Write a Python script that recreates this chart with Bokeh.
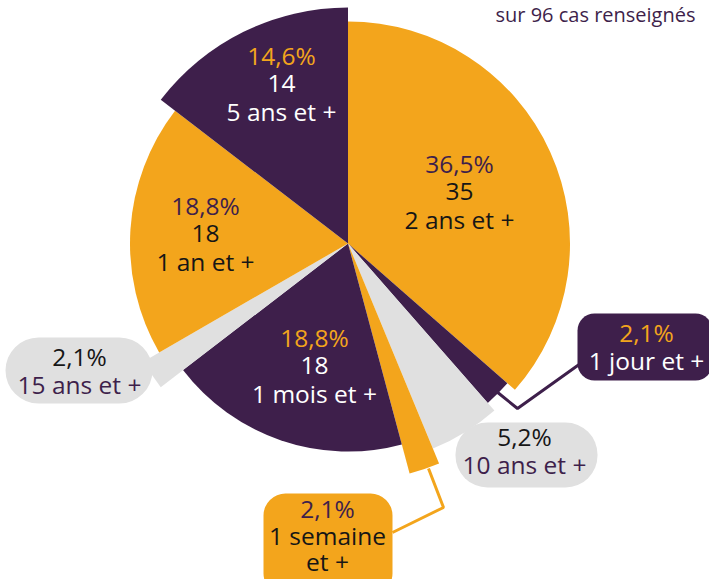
from bokeh.plotting import figure
from bokeh.models import Range1d, ColumnDataSource
from bokeh.core.properties import value
from bokeh.embed import file_html
from bokeh.resources import INLINE
import math

# ---- data ----
categories = ["2 ans et +", "1 jour et +", "10 ans et +", "1 semaine et +",
              "1 mois et +", "15 ans et +", "1 an et +", "5 ans et +"]
counts = [35, 2, 5, 2, 18, 2, 18, 14]
note = "sur 96 cas renseignés"

# ---- styles ----
ORANGE = "#F3A51C"
PURPLE = "#3E1F4B"
GREY = "#E0E0E0"
BLACK = "#161616"
WHITE = "#FFFFFF"
FONT = "Open Sans"
FS = "24.5px"
colors = [ORANGE, PURPLE, GREY, ORANGE, PURPLE, GREY, ORANGE, PURPLE]
radii = [222, 212, 222, 238, 208, 236, 218, 236]

W, H = 709, 579
CX, CY = 347.5, 243  # pixel position of pie centre


def Y(sy):
    return -sy


p = figure(width=W, height=H, output_backend="svg", toolbar_location=None,
           x_range=Range1d(0, W), y_range=Range1d(-H, 0),
           x_axis_location=None, y_axis_location=None, min_border=0,
           outline_line_color=None, background_fill_color=WHITE)
p.grid.visible = False

total = sum(counts)
starts, ends = [], []
cum = 0.0
for c in counts:
    a0 = math.pi / 2 - 2 * math.pi * cum / total
    cum += c
    a1 = math.pi / 2 - 2 * math.pi * cum / total
    starts.append(a1)
    ends.append(a0)

src = ColumnDataSource(dict(x=[CX] * len(counts), y=[Y(CY)] * len(counts),
                            r=radii, start=starts, end=ends, color=colors))
p.wedge(x="x", y="y", radius="r", start_angle="start", end_angle="end",
        fill_color="color", line_color=None, source=src)


def pct(c):
    return ("%.1f" % (100.0 * c / total)).replace(".", ",") + "%"


def txt(x, sy, s, color, align="center"):
    p.text(x=[x], y=[Y(sy)], text=[s], text_color=color, text_font=value(FONT),
           text_font_size=FS, text_align=align, text_baseline="middle")


# inner labels: slice index -> (centre x, first line y)
inner = {0: (459, 163), 4: (314, 337), 6: (205, 205), 7: (281, 55)}
for i, (lx, ly) in inner.items():
    on_orange = colors[i] == ORANGE
    txt(lx, ly, pct(counts[i]), PURPLE if on_orange else ORANGE)
    txt(lx, ly + 28, str(counts[i]), BLACK if on_orange else WHITE)
    txt(lx, ly + 56, categories[i], BLACK if on_orange else WHITE)

# connectors
p.line(x=[580, 517, 496], y=[Y(363), Y(408), Y(391)], line_color=PURPLE, line_width=3)
p.line(x=[428, 443, 392], y=[Y(468), Y(507), Y(532)], line_color=ORANGE, line_width=3)

# callout boxes: slice index -> (left, top, right, bottom, radius, text x, first line y, line step)
boxes = {1: (577, 313, 712, 380, 17, 646, 332, 28),
         2: (455, 422, 597, 487, 32, 524, 436, 28),
         3: (263, 493, 392, 595, 22, 327, 508, 26.5),
         5: (5, 337, 152, 403, 33, 79, 356, 28)}
for i, (l, t, r, b, br, tx, ty, step) in boxes.items():
    p.quad(left=[l], right=[r], top=[Y(t)], bottom=[Y(b)], fill_color=colors[i],
           line_color=None, border_radius=br)
    if colors[i] == PURPLE:
        c1, c2 = ORANGE, WHITE
    elif colors[i] == ORANGE:
        c1, c2 = PURPLE, BLACK
    else:
        c1, c2 = BLACK, PURPLE
    txt(tx, ty, pct(counts[i]), c1)
    cat = categories[i]
    lines = cat.replace(" et +", "\net +").split("\n") if len(cat) > 12 else [cat]
    for k, s in enumerate(lines):
        txt(tx, ty + step * (k + 1), s, c2)

# note (cut at the top edge in the reference; kept fully visible here)
p.text(x=[695], y=[Y(0)], text=[note], text_color=PURPLE, text_font=value(FONT),
       text_font_size="20px", text_align="right", text_baseline="top")

open("out.html", "w").write(file_html(p, INLINE))
